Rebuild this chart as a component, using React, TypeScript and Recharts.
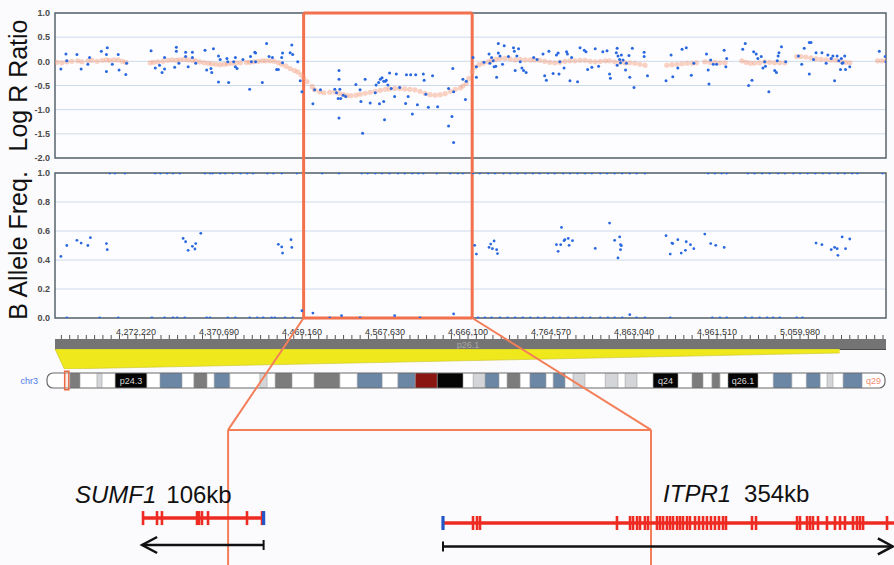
import React from 'react';
import {
  ScatterChart, ComposedChart, Scatter, Area, XAxis, YAxis, CartesianGrid,
  ReferenceLine, ReferenceArea, ReferenceDot,
} from 'recharts';

const FONT = '"Liberation Sans", Arial, Helvetica, sans-serif';
const W = 894;
const PLOT_L = 55;
const PLOT_R = 886;

// genomic window on chr3, kb
const winStart = 4176;
const winEnd = 5162;
const deletion = [4471, 4671];

const rulerLabels = [4272220, 4370690, 4469160, 4567630, 4666100, 4764570, 4863040, 4961510, 5059980];
const logRTicks = [1, 0.5, 0, -0.5, -1, -1.5, -2];
const bafTicks = [1, 0.8, 0.6, 0.4, 0.2, 0];

// Log R ratio: smoothed track (orange) and single probes (blue), [kb, value]
const logRSmooth: [number, number][] = [
  [4178, -0.02], [4184, -0.03], [4190, -0.01], [4196, 0], [4203, 0.01], [4208, -0.01], [4215, 0.01], [4220, 0.02],
  [4226, 0], [4232, 0.02], [4237, 0.03], [4241, 0.02], [4246, 0.03], [4251, 0.03], [4256, 0], [4260, -0.02],
  [4289, -0.03], [4293, -0.02], [4298, -0.01], [4304, 0], [4310, 0.02], [4315, 0.03], [4320, 0.02], [4324, 0.03],
  [4329, 0.04], [4334, 0.03], [4339, 0.02], [4343, 0.01], [4348, -0.01], [4353, -0.03], [4358, -0.04], [4362, -0.05],
  [4367, -0.06], [4372, -0.07], [4377, -0.06], [4381, -0.05], [4386, -0.04], [4391, -0.03], [4396, -0.03], [4403, -0.02],
  [4407, -0.02], [4412, -0.01], [4417, 0], [4422, 0.01], [4426, 0.01], [4431, 0.01], [4436, 0], [4441, -0.03],
  [4445, -0.06], [4450, -0.1], [4455, -0.15], [4460, -0.19], [4464, -0.22], [4468, -0.28], [4471, -0.34], [4475, -0.42],
  [4481, -0.52], [4484, -0.59], [4490, -0.63], [4495, -0.65], [4502, -0.64], [4508, -0.63], [4513, -0.66], [4518, -0.69],
  [4522, -0.71], [4527, -0.71], [4533, -0.7], [4538, -0.68], [4544, -0.66], [4550, -0.64], [4556, -0.62], [4562, -0.6],
  [4568, -0.58], [4573, -0.57], [4579, -0.56], [4585, -0.56], [4591, -0.57], [4597, -0.58], [4603, -0.59], [4609, -0.62],
  [4615, -0.66], [4621, -0.69], [4627, -0.7], [4633, -0.69], [4639, -0.67], [4645, -0.62], [4651, -0.58], [4657, -0.55],
  [4660, -0.51], [4664, -0.45], [4667, -0.35], [4671, -0.22], [4674, -0.12], [4679, -0.07], [4684, -0.04], [4690, -0.01],
  [4694, 0.02], [4699, 0.04], [4704, 0.06], [4710, 0.06], [4716, 0.05], [4722, 0.03], [4728, 0.04], [4734, 0.03],
  [4740, 0.03], [4745, 0.03], [4751, 0.02], [4757, 0], [4763, -0.02], [4769, -0.03], [4775, -0.02], [4781, 0],
  [4787, 0.01], [4793, 0.01], [4799, 0.02], [4805, 0.02], [4811, 0], [4817, -0.01], [4823, 0], [4829, 0.01],
  [4834, 0.01], [4840, -0.01], [4846, -0.02], [4852, -0.03], [4858, -0.03], [4864, -0.04], [4870, -0.06], [4876, -0.08],
  [4902, -0.08], [4908, -0.07], [4914, -0.06], [4920, -0.05], [4926, -0.04], [4932, -0.04], [4937, -0.03], [4947, -0.01],
  [4953, -0.02], [4959, -0.02], [4965, -0.03], [4971, -0.03], [4991, 0.01], [4996, -0.02], [5001, -0.04], [5006, -0.04],
  [5012, -0.03], [5018, -0.01], [5024, -0.02], [5030, -0.03], [5036, -0.03], [5042, -0.03], [5056, 0.1], [5061, 0.1],
  [5067, 0.09], [5073, 0.07], [5079, 0.05], [5085, 0.04], [5091, 0.03], [5097, 0.03], [5103, 0.02], [5109, 0],
  [5114, -0.02], [5119, -0.03], [5152, 0.01], [5157, 0.01], [5162, 0.01],
];

const logRProbes: [number, number][] = [
  [4183, -0.16], [4189, 0.15], [4190, 0.01], [4202, 0.14], [4207, -0.16], [4217, 0.08], [4215, -0.06], [4231, 0.21],
  [4238, 0.28], [4237, 0.14], [4237, -0.21], [4244, -0.06], [4251, 0.14], [4252, -0.18], [4260, -0.27], [4261, -0.04],
  [4290, 0.22], [4295, -0.14], [4300, -0.08], [4303, -0.23], [4306, 0.08], [4306, -0.16], [4320, 0.29], [4320, 0.21],
  [4318, -0.12], [4323, -0.04], [4331, 0.19], [4331, 0.1], [4334, -0.11], [4339, 0.19], [4339, 0.08], [4343, -0.04],
  [4354, 0.23], [4356, -0.18], [4364, 0.26], [4361, -0.15], [4362, -0.23], [4370, 0.11], [4372, 0.04], [4370, -0.43],
  [4380, 0.06], [4382, -0.44], [4381, -0.01], [4390, 0.08], [4390, -0.11], [4392, -0.15], [4388, -0.01], [4399, 0.04],
  [4407, -0.58], [4408, 0.1], [4409, -0.01], [4413, 0.19], [4414, 0.17], [4414, -0.01], [4422, -0.44], [4427, 0.37],
  [4430, 0.1], [4434, 0.08], [4439, -0.17], [4441, -0.17], [4445, 0.08], [4446, 0.17], [4446, -0.03], [4457, 0.34],
  [4455, 0.18], [4458, 0.14], [4464, -0.01], [4467, -0.4], [4469, -0.63],
  [4482, -0.88], [4484, -0.59], [4491, -0.59], [4508, -0.58], [4510, -0.65], [4513, -0.19], [4513, -0.37], [4514, -0.58],
  [4512, -0.77], [4515, -0.77], [4518, -0.7], [4521, -0.73], [4513, -1.17], [4533, -0.48], [4538, -0.59], [4539, -0.83],
  [4544, -0.37], [4541, -1.49], [4550, -0.86], [4556, -0.65], [4557, -0.49], [4560, -0.44], [4562, -0.37], [4564, -0.34],
  [4566, -0.41], [4568, -0.41], [4569, -0.39], [4561, -0.88], [4566, -0.83], [4567, -1.21], [4573, -0.24], [4571, -0.49],
  [4575, -0.56], [4581, -0.26], [4579, -0.73], [4585, -0.54], [4593, -0.28], [4592, -0.87], [4598, -0.28], [4600, -1.09],
  [4604, -0.28], [4595, -0.73], [4606, -0.9], [4613, -0.26], [4614, -0.39], [4616, -0.68], [4619, -0.95], [4624, -0.3],
  [4630, -0.94], [4643, -0.56], [4643, -1.34], [4648, -0.15], [4647, -1.14], [4649, -1.68], [4649, -0.63], [4660, -0.37],
  [4664, -0.41], [4663, -0.79],
  [4672, 0.08], [4676, -0.11], [4676, -0.33], [4685, -0.02], [4691, 0.15], [4692, -0.04], [4694, 0.08], [4696, 0.01],
  [4697, -0.11], [4699, -0.1], [4700, -0.33], [4702, 0.37], [4702, 0.17], [4704, 0.11], [4707, -0.06], [4709, 0.32],
  [4714, 0.1], [4720, 0.28], [4721, 0.21], [4726, 0.26], [4724, 0.11], [4722, -0.19], [4730, -0.14], [4732, -0.19],
  [4735, -0.23], [4728, -0.01], [4744, 0.08], [4748, 0.04], [4755, 0.15], [4757, -0.3], [4759, -0.39], [4762, 0.21],
  [4767, -0.25], [4771, 0.13], [4773, 0.17], [4774, -0.26], [4775, -0.01], [4780, -0.14], [4783, 0.2], [4784, 0.15],
  [4787, -0.4], [4789, 0.08], [4796, -0.42], [4799, 0.28], [4804, 0.23], [4806, 0.2], [4808, -0.17], [4813, -0.12],
  [4817, 0.26], [4821, -0.1], [4826, 0.2], [4831, 0.22], [4834, -0.26], [4835, -0.35], [4842, 0.18], [4843, 0.27],
  [4844, 0.11], [4843, -0.08], [4846, 0.04], [4848, 0.13], [4847, -0.03], [4850, 0.03], [4853, -0.18], [4854, -0.04],
  [4857, 0.12], [4858, -0.33], [4861, 0.27], [4863, -0.54], [4875, 0.19], [4875, 0.1], [4879, -0.3], [4901, -0.4],
  [4907, 0.13], [4909, -0.32], [4915, -0.14], [4920, 0.25], [4925, 0.28], [4931, -0.29], [4934, -0.04], [4949, 0.15],
  [4951, -0.18], [4952, -0.47], [4954, 0.03], [4957, -0.06], [4961, -0.06], [4970, 0.23], [4973, 0.06], [4972, -0.11],
  [4992, 0.25], [4995, 0.37], [4999, -0.5], [5003, -0.39], [5005, 0.2], [5008, 0.15], [5010, 0.06], [5014, 0.1],
  [5016, -0.14], [5018, -0.01], [5019, -0.1], [5023, -0.63], [5030, -0.19], [5032, -0.23], [5033, 0.01], [5034, 0.11],
  [5035, 0.18], [5038, 0.3], [5043, -0.01], [5058, 0.11], [5062, -0.06], [5065, 0.27], [5071, 0.39], [5073, 0.39],
  [5071, -0.26], [5076, 0.04], [5079, 0.18], [5086, 0.18], [5091, -0.04], [5093, 0.13], [5097, 0.06], [5099, 0.11],
  [5101, -0.4], [5104, 0.11], [5106, 0.01], [5108, -0.17], [5109, 0.06], [5110, -0.04], [5111, -0.03], [5113, 0.11],
  [5114, -0.17], [5119, -0.11], [5154, 0.21], [5161, 0.1], [5162, -0.01],
];

// B allele frequency: heterozygous / intermediate calls [kb, value]
const bafMid: [number, number][] = [
  [4183, 0.425], [4190, 0.5], [4202, 0.536], [4207, 0.517], [4215, 0.5], [4218, 0.554], [4237, 0.513], [4238, 0.471],
  [4328, 0.549], [4331, 0.526], [4334, 0.467], [4339, 0.494], [4342, 0.476], [4343, 0.513], [4349, 0.584],
  [4441, 0.508], [4445, 0.49], [4446, 0.448], [4456, 0.54], [4457, 0.487],
  [4469, 0.05], [4482, 0.034], [4516, 0.016], [4579, 0.016], [4649, 0.028], [4858, 0.023],
  [4674, 0.501], [4676, 0.441], [4691, 0.487], [4693, 0.51], [4695, 0.478], [4697, 0.531], [4700, 0.471], [4701, 0.444],
  [4771, 0.506], [4773, 0.46], [4776, 0.506], [4777, 0.625], [4780, 0.533], [4781, 0.54], [4785, 0.549], [4786, 0.501],
  [4790, 0.533], [4817, 0.48], [4834, 0.655], [4840, 0.536], [4846, 0.559], [4847, 0.506], [4848, 0.499], [4847, 0.471],
  [4844, 0.414], [4901, 0.568], [4906, 0.441], [4908, 0.517], [4909, 0.513], [4915, 0.54], [4919, 0.448], [4924, 0.467],
  [4925, 0.526], [4930, 0.506], [4934, 0.478], [4947, 0.579], [4954, 0.513], [4960, 0.501], [4970, 0.487],
  [5079, 0.517], [5086, 0.506], [5097, 0.471], [5101, 0.487], [5104, 0.478], [5105, 0.432], [5110, 0.559], [5114, 0.478],
  [5119, 0.545],
];
// homozygous BB (BAF = 1) and AA (BAF = 0) probe positions, kb
const bafBB = [
  4241, 4247, 4259, 4295, 4301, 4309, 4316, 4324, 4354, 4360, 4363, 4372, 4378, 4387, 4396, 4404, 4411, 4428, 4435,
  4445, 4463, 4493, 4513, 4540, 4547, 4556, 4564, 4573, 4583, 4591, 4600, 4607, 4613, 4629, 4645, 4654, 4660, 4672,
  4680, 4690, 4698, 4708, 4716, 4725, 4734, 4743, 4751, 4761, 4769, 4779, 4787, 4796, 4805, 4813, 4823, 4831, 4840,
  4849, 4858, 4866, 4876, 4951, 4959, 4967, 4973, 4998, 5006, 5015, 5024, 5034, 5042, 5052, 5060, 5069, 5078, 5087,
  5095, 5105, 5113, 5122, 5128, 5158,
];
const bafAA = [
  4190, 4229, 4251, 4291, 4306, 4316, 4321, 4330, 4356, 4360, 4381, 4390, 4407, 4416, 4423, 4433, 4437, 4449, 4458,
  4502, 4538, 4609, 4678, 4686, 4694, 4704, 4713, 4722, 4731, 4740, 4749, 4757, 4767, 4775, 4785, 4794, 4802, 4811,
  4823, 4832, 4840, 4849, 4866, 4876, 4906, 4956, 4965, 4973, 4995, 5003, 5012, 5021, 5028, 5036, 5056, 5063,
];

// grey position bar under the plots, and the yellow projection to the ideogram
const rulerBar = [
  { kb: winStart, bar: [0, 1] },
  { kb: winEnd, bar: [0, 1] },
];
const wedge = [
  { kb: 4176, span: [1, 1] },
  { kb: 4187, span: [0, 1] },
  { kb: 5107, span: [0.8, 1] },
];

// chr3 ideogram, band start in Mb + stain
const chr3Length = 198;
const chr3Bands: [number, string, string?][] = [
  [0, 'w'], [5.4, 'g'], [7.8, 'w'], [11.8, 'l'], [13.0, 'w'], [16.1, 'k', 'p24.3'], [23.6, 'w'], [26.7, 'b'],
  [31.9, 'w'], [34.7, 'g'], [37.8, 'w'], [39.5, 'b'], [43.2, 'w'], [50.3, 'l'], [52.0, 'w'], [53.9, 'g'],
  [57.9, 'w'], [63.1, 'g'], [69.2, 'w'], [73.3, 'b'], [79.2, 'w'], [82.9, 'b'], [87.0, 'c'], [92.2, 'k'],
  [98.3, 'w'], [100.7, 'l'], [103.5, 'b'], [106.8, 'w'], [108.7, 'g'], [111.8, 'w'], [114.1, 'b'], [117.9, 'w'],
  [119.6, 'b'], [122.4, 'w'], [124.3, 'l'], [127.1, 'w'], [131.9, 'l'], [134.9, 'w'], [136.6, 'l'], [139.4, 'w'],
  [143.2, 'k', 'q24'], [149.1, 'w'], [152.4, 'g'], [155.0, 'w'], [157.1, 'g'], [159.0, 'w'], [160.9, 'k', 'q26.1'],
  [168.0, 'w'], [171.6, 'b'], [176.0, 'w'], [179.4, 'b'], [182.7, 'w'], [184.3, 'l'], [185.7, 'w'], [188.1, 'b'],
  [192.6, 'w', 'q29'],
];
const stainColor: Record<string, string> = {
  w: '#ffffff', l: '#d3d5d8', g: '#7c7c7c', b: '#6c87a5', k: '#050505', c: '#8a1612',
};

// gene schematic (drawing units ~ kb, not to scale between genes)
const panelSpan = 780;
const zoomBox = [199, 568];
const sumf1Exons = [0.8, 13, 17.3, 47.9, 49.6, 52.2, 57.5, 91.5, 104.6];
const itpr1Exons = [
  26.2, 29.7, 32.3, 151.8, 163.2, 165.8, 169.3, 171.9, 176.2, 178.9, 186.7, 189.3, 192, 195.4, 198.1, 200.7, 204.2,
  206.8, 209.4, 212.9, 215.5, 219.9, 223.4, 226.9, 230.3, 233.8, 237.3, 240.8, 244.3, 246.9, 269.6, 273.1, 308.9,
  311.5, 317.6, 320.2, 322.8, 327.2, 335, 342, 346.4, 350.7, 357.7, 361.2, 363.8, 366.5, 387.4,
];

// vertical layout of the gene panel (0 = top, 100 = bottom)
const rows = {
  boxTop: 45.3,
  sumf1: { label: 74.9, gene: 81, arrow: 91.9 },
  itpr1: { label: 74.5, gene: 83, arrow: 92.5 },
};

const genes = [
  { name: 'SUMF1', size: '106kb', start: 124, end: 230, strand: -1, exons: sumf1Exons, row: rows.sumf1, labelX: 65.4, gap: 10 },
  { name: 'ITPR1', size: '354kb', start: 386.5, end: 780, strand: 1, exons: itpr1Exons, row: rows.itpr1, labelX: 578.5, gap: 13, tip: 779 },
];

const toXY = (arr: [number, number][]) => arr.map(([x, y]) => ({ x, y }));
const dot = (r: number, fill: string, opacity = 1) => (p: any) =>
  p.cx == null ? <g /> : <circle cx={p.cx} cy={p.cy} r={r} fill={fill} fillOpacity={opacity} />;

const genomicToPanel = (kb: number) =>
  ((PLOT_L + ((kb - winStart) / (winEnd - winStart)) * (PLOT_R - PLOT_L)) / W) * panelSpan;

const rulerStep = (rulerLabels[1] - rulerLabels[0]) / 10000;
const rulerTicks: number[] = [];
const rulerMajor = new Set<number>();
for (let i = -20; i <= 120; i++) {
  const v = rulerLabels[0] / 1000 + i * rulerStep;
  if (v < winStart || v > winEnd) continue;
  rulerTicks.push(v);
  if (i >= 0 && i % 10 === 0 && i / 10 < rulerLabels.length) rulerMajor.add(v);
}

function AxisTitle(props: any) {
  const { viewBox, text } = props;
  const x = 27;
  const y = viewBox.y + viewBox.height / 2;
  return (
    <text x={x} y={y} transform={`rotate(-90 ${x} ${y})`} textAnchor="middle" fontSize={25} fill="#111" fontFamily={FONT}>
      {text}
    </text>
  );
}

const RulerTick = (p: any) =>
  rulerMajor.has(p.payload.value) ? (
    <text x={p.x} y={p.y + 1.5} textAnchor="middle" fontSize={9} fill="#333" fontFamily={FONT}>
      {Math.round(p.payload.value * 1000).toLocaleString('en-US')}
    </text>
  ) : <g />;

const tickStyle = { fontSize: 9, fontWeight: 700, fill: '#4a4a4a', fontFamily: FONT };
const BOX = '#f2704c';
const LINK = '#f47e58';
const GAP = 15;
const bafGapTop = 1 + GAP / 145;

export default function App() {
  const bafPts = [
    ...toXY(bafMid),
    ...bafBB.map((x) => ({ x, y: 1 })),
    ...bafAA.map((x) => ({ x, y: 0 })),
  ];
  const bandPts = chr3Bands.slice(1).map(([x]) => ({ x, y: 0.5 }));
  const exonPts = genes.flatMap((g) => g.exons.map((o) => ({ x: g.start + o, y: g.row.gene })));
  const tssPts = genes.map((g) => ({ x: g.strand < 0 ? g.end : g.start, y: g.row.gene }));
  const tipPts = genes.map((g) => ({ x: g.strand < 0 ? g.start : (g.tip ?? g.end), y: g.row.arrow, dir: g.strand }));
  const capPts = genes.map((g) => ({ x: g.strand < 0 ? g.end : g.start, y: g.row.arrow }));
  const labelPts = genes.map((g) => ({ x: g.labelX, y: g.row.label, name: g.name, size: g.size, gap: g.gap }));

  return (
    <div style={{ position: 'absolute', left: 0, top: 0, width: W, height: 565, background: '#fbfbfd', overflow: 'hidden', fontFamily: FONT }}>
      {/* Log R Ratio */}
      <div style={{ position: 'absolute', left: 0, top: 0 }}>
        <ScatterChart width={W} height={165} margin={{ top: 13, right: W - PLOT_R, bottom: 7, left: PLOT_L - 30 }}>
          <CartesianGrid vertical={false} stroke="#cddaea" fill="#fdfdff" />
          <XAxis type="number" dataKey="x" domain={[winStart, winEnd]} hide allowDataOverflow />
          <YAxis
            type="number" dataKey="y" domain={[-2, 1]} ticks={logRTicks} interval={0} width={30}
            tickLine={false} axisLine={false} tickSize={3} tick={tickStyle} allowDataOverflow
            tickFormatter={(v: number) => v.toFixed(1)} label={<AxisTitle text="Log R Ratio" />}
          />
          <ReferenceArea x1={winStart} x2={winEnd} y1={-2} y2={1} fill="none" stroke="#58646c" strokeWidth={1.5} ifOverflow="visible" />
          <Scatter data={toXY(logRSmooth)} shape={dot(2.6, '#f59c7a', 0.45)} isAnimationActive={false} />
          <Scatter data={toXY(logRProbes)} shape={dot(1.5, '#2a68e0')} isAnimationActive={false} />
          <ReferenceLine segment={[{ x: deletion[0], y: 1 }, { x: deletion[1], y: 1 }]} stroke={BOX} strokeWidth={3} ifOverflow="visible" />
          <ReferenceLine segment={[{ x: deletion[0], y: 1 }, { x: deletion[0], y: -2 }]} stroke={BOX} strokeWidth={3} ifOverflow="visible" />
          <ReferenceLine segment={[{ x: deletion[1], y: 1 }, { x: deletion[1], y: -2 }]} stroke={BOX} strokeWidth={3} ifOverflow="visible" />
        </ScatterChart>
      </div>

      {/* B Allele Freq */}
      <div style={{ position: 'absolute', left: 0, top: 158 }}>
        <ScatterChart width={W} height={172} margin={{ top: GAP, right: W - PLOT_R, bottom: 12, left: PLOT_L - 30 }}>
          <CartesianGrid vertical={false} stroke="#cddaea" fill="#fdfdff" />
          <XAxis type="number" dataKey="x" domain={[winStart, winEnd]} hide allowDataOverflow />
          <YAxis
            type="number" dataKey="y" domain={[0, 1]} ticks={bafTicks} interval={0} width={30}
            tickLine={false} axisLine={false} tickSize={3} tick={tickStyle} allowDataOverflow
            tickFormatter={(v: number) => v.toFixed(1)} label={<AxisTitle text="B Allele Freq." />}
          />
          <ReferenceArea x1={winStart} x2={winEnd} y1={0} y2={1} fill="none" stroke="#58646c" strokeWidth={1.5} ifOverflow="visible" />
          <Scatter data={bafPts} shape={dot(1.4, '#2a68e0')} isAnimationActive={false} />
          <ReferenceLine segment={[{ x: deletion[0], y: bafGapTop }, { x: deletion[0], y: 0 }]} stroke={BOX} strokeWidth={3} ifOverflow="visible" />
          <ReferenceLine segment={[{ x: deletion[1], y: bafGapTop }, { x: deletion[1], y: 0 }]} stroke={BOX} strokeWidth={3} ifOverflow="visible" />
          <ReferenceLine segment={[{ x: deletion[0], y: 0 }, { x: deletion[1], y: 0 }]} stroke={BOX} strokeWidth={3} ifOverflow="visible" />
        </ScatterChart>
      </div>

      {/* position ruler */}
      <div style={{ position: 'absolute', left: 0, top: 320 }}>
        <ComposedChart width={W} height={30} data={rulerBar} margin={{ top: 0, right: W - PLOT_R, bottom: 0, left: PLOT_L }}>
          <XAxis
            type="number" dataKey="kb" orientation="top" domain={[winStart, winEnd]} ticks={rulerTicks} interval={0}
            height={19} tickSize={4} axisLine={false} tickLine={{ stroke: '#555' }} tick={RulerTick} allowDataOverflow
          />
          <YAxis type="number" domain={[0, 1]} hide />
          <Area type="linear" dataKey="bar" fill="#747474" fillOpacity={1} stroke="none" isAnimationActive={false} />
          <ReferenceLine y={0} stroke="#3f3f3f" strokeWidth={1.5} />
          <ReferenceDot x={4666} y={0.5} r={0} label={{ value: 'p26.1', fill: '#a8a8a8', fontSize: 9 }} />
        </ComposedChart>
      </div>

      {/* yellow projection */}
      <div style={{ position: 'absolute', left: 0, top: 349 }}>
        <ComposedChart width={W} height={20} data={wedge} margin={{ top: 0, right: W - PLOT_R, bottom: 0, left: PLOT_L }}>
          <XAxis type="number" dataKey="kb" domain={[winStart, winEnd]} hide />
          <YAxis type="number" domain={[0, 1]} hide />
          <Area type="linear" dataKey="span" fill="#efe81c" fillOpacity={1} stroke="#c9c22a" strokeWidth={0.6} isAnimationActive={false} />
        </ComposedChart>
      </div>

      {/* chr3 ideogram */}
      <div style={{ position: 'absolute', left: 0, top: 369 }}>
        <ComposedChart width={W} height={24} margin={{ top: 4, right: 9, bottom: 5, left: 47 }}>
          <XAxis type="number" dataKey="x" domain={[0, chr3Length]} hide />
          <YAxis type="number" dataKey="y" domain={[0, 1]} hide />
          {chr3Bands.map(([start, stain, name], i) => (
            <ReferenceArea
              key={i}
              x1={start}
              x2={i + 1 < chr3Bands.length ? chr3Bands[i + 1][0] : chr3Length}
              y1={0}
              y2={1}
              fill={stainColor[stain]}
              fillOpacity={1}
              stroke="none"
              label={name ? { value: name, fill: stain === 'k' ? '#d8d8d8' : '#f08a70', fontSize: 9 } : undefined}
            />
          ))}
          <Scatter data={bandPts} isAnimationActive={false}
            shape={(p: any) => <line x1={p.cx} x2={p.cx} y1={p.cy - 7.5} y2={p.cy + 7.5} stroke="#a0a0a0" strokeWidth={0.6} />} />
          <ReferenceArea
            x1={0} x2={chr3Length} y1={0} y2={1}
            shape={(p: any) => <rect x={p.x} y={p.y} width={p.width} height={p.height} rx={6} fill="none" stroke="#6a6a6a" strokeWidth={1.2} />}
            label={{ value: 'chr3', position: 'left', offset: 9, fill: '#4b78e6', fontSize: 9 }}
          />
          <ReferenceArea
            x1={winStart / 1000} x2={winEnd / 1000} y1={-0.12} y2={1.12}
            fill="#f5b7a0" fillOpacity={0.25} stroke="#ea6a45" strokeWidth={1.5} ifOverflow="visible"
          />
        </ComposedChart>
      </div>

      {/* zoomed gene panel + connectors */}
      <div style={{ position: 'absolute', left: 0, top: 318 }}>
        <ComposedChart width={W} height={247} margin={{ top: 0, right: 0, bottom: 0, left: 0 }}>
          <XAxis type="number" dataKey="x" domain={[0, panelSpan]} hide allowDataOverflow />
          <YAxis type="number" dataKey="y" domain={[0, 100]} reversed hide allowDataOverflow />
          <ReferenceLine segment={[{ x: genomicToPanel(deletion[0]), y: 0 }, { x: zoomBox[0], y: rows.boxTop }]} stroke={LINK} strokeWidth={2} ifOverflow="visible" />
          <ReferenceLine segment={[{ x: genomicToPanel(deletion[1]), y: 0 }, { x: zoomBox[1], y: rows.boxTop }]} stroke={LINK} strokeWidth={2} ifOverflow="visible" />
          <ReferenceLine segment={[{ x: zoomBox[0], y: rows.boxTop }, { x: zoomBox[1], y: rows.boxTop }]} stroke={LINK} strokeWidth={2} ifOverflow="visible" />
          <ReferenceLine segment={[{ x: zoomBox[0], y: rows.boxTop }, { x: zoomBox[0], y: 100 }]} stroke={LINK} strokeWidth={2} ifOverflow="visible" />
          <ReferenceLine segment={[{ x: zoomBox[1], y: rows.boxTop }, { x: zoomBox[1], y: 100 }]} stroke={LINK} strokeWidth={2} ifOverflow="visible" />
          {genes.map((g) => (
            <ReferenceLine key={g.name} segment={[{ x: g.start, y: g.row.gene }, { x: g.end, y: g.row.gene }]} stroke="#ee2b22" strokeWidth={3.5} ifOverflow="visible" />
          ))}
          {genes.map((g) => (
            <ReferenceLine key={g.name + 'a'} segment={[{ x: g.start, y: g.row.arrow }, { x: g.strand < 0 ? g.end : (g.tip ?? g.end), y: g.row.arrow }]} stroke="#111" strokeWidth={2.5} ifOverflow="visible" />
          ))}
          <Scatter data={exonPts} isAnimationActive={false}
            shape={(p: any) => <rect x={p.cx - 1.3} y={p.cy - 7} width={2.6} height={14} fill="#ee2b22" />} />
          <Scatter data={tssPts} isAnimationActive={false}
            shape={(p: any) => <rect x={p.cx - 1.6} y={p.cy - 7} width={3.2} height={14} fill="#2456c8" />} />
          <Scatter data={capPts} isAnimationActive={false}
            shape={(p: any) => <line x1={p.cx} x2={p.cx} y1={p.cy - 5} y2={p.cy + 5} stroke="#111" strokeWidth={2} />} />
          <Scatter data={tipPts} isAnimationActive={false}
            shape={(p: any) => {
              const d = p.payload.dir;
              return <path d={`M ${p.cx - d * 15} ${p.cy - 8} L ${p.cx} ${p.cy} L ${p.cx - d * 15} ${p.cy + 8}`} fill="none" stroke="#111" strokeWidth={2.5} />;
            }} />
          <Scatter data={labelPts} isAnimationActive={false}
            shape={(p: any) => (
              <text x={p.cx} y={p.cy} fontSize={24} fill="#111" fontFamily={FONT}>
                <tspan fontStyle="italic">{p.payload.name}</tspan>
                <tspan dx={p.payload.gap}>{p.payload.size}</tspan>
              </text>
            )} />
        </ComposedChart>
      </div>
    </div>
  );
}
